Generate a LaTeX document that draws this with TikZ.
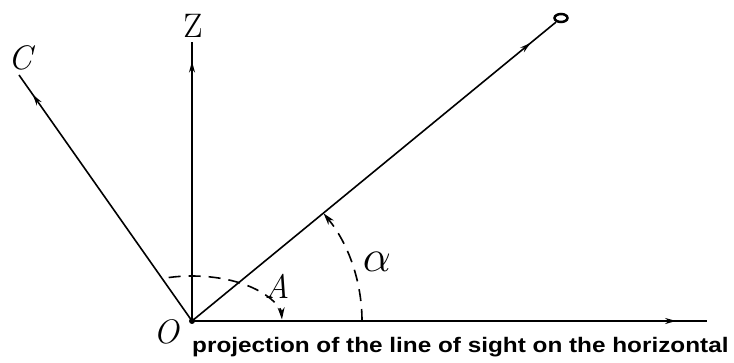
\documentclass[tikz,border=0pt]{standalone}
\usepackage{fontspec}
\newfontfamily\capfont{Liberation Sans}
\usetikzlibrary{arrows.meta,decorations.markings,shapes.geometric}

\begin{document}
\begin{tikzpicture}[x=1pt, y=1pt,
    axisline/.style={line width=1.6pt, postaction={decorate},
        decoration={markings, mark=at position #1 with {\arrow{Stealth[length=11pt,width=6pt]}}}},
    anglearc/.style={line width=1.6pt, dash pattern=on 12pt off 8pt, -{Stealth[length=12pt,width=7pt]}},
    letter/.style={font=\fontsize{34}{34}\selectfont\itshape, inner sep=0pt}]
    \useasboundingbox (0,0) rectangle (734,363);

    % Origine e punti estremi
    \coordinate (O) at (192,42);
    \coordinate (Ztop) at (192,321);
    \coordinate (Ctop) at (19,288);
    \coordinate (Hend) at (707,42);
    \node[draw, ellipse, line width=2.5pt, minimum width=13pt, minimum height=8pt, inner sep=0pt] (eye) at (561,345) {};

    % Assi e linea di vista
    \draw[axisline=0.93] (O) -- (Ztop);
    \draw[axisline=0.92] (O) -- (Ctop);
    \draw[axisline=0.94] (O) -- (Hend);
    \draw[axisline=0.93] (O) -- (eye);
    \fill (O) circle[radius=3pt];

    % Angoli tratteggiati
    \draw[anglearc] (O) ++(170,0) arc[start angle=0, end angle=39.3, radius=170];
    \draw[anglearc] (O) ++(105:90 and 45) arc[start angle=105, end angle=2, x radius=90, y radius=45];

    % Etichette
    \node[letter, font=\fontsize{34}{34}\selectfont\upshape] (labZ) at (193,337) {Z};
    \node[letter] (labC) at (20,305) {C};
    \node[letter] (labO) at (166,31) {O};
    \node[letter] (labA) at (277,77) {A};
    \node[letter] (labalpha) at (377,101) {\scalebox{1.8}{$\alpha$}};
    \node[anchor=base west, inner sep=0pt, font=\capfont\bfseries\fontsize{21}{21}\selectfont] (caption) at (192,10)
        {\scalebox{1.158}[1]{projection of the line of sight on the horizontal}};
\end{tikzpicture}
\end{document}
